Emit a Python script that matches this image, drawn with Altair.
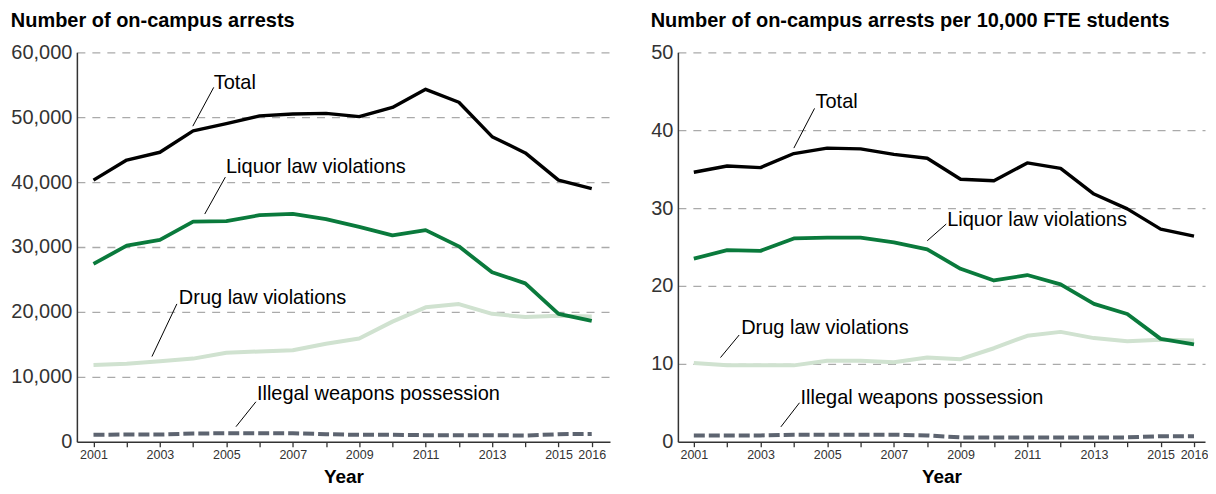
import altair as alt
import pandas as pd

years = list(range(2001, 2017))

# Left panel: number of on-campus arrests
count_total = [40300, 43400, 44600, 47900, 49000, 50200, 50500, 50600, 50100, 51500, 54300, 52300, 47000, 44500, 40300, 39000]
count_liquor = [27400, 30200, 31100, 33900, 34000, 34900, 35100, 34300, 33100, 31800, 32600, 30100, 26100, 24400, 19700, 18600]
count_drug = [11800, 12000, 12400, 12800, 13700, 13900, 14100, 15100, 15900, 18500, 20700, 21200, 19700, 19200, 19400, 19300]
count_weapons = [1050, 1100, 1100, 1250, 1300, 1300, 1300, 1150, 1050, 1050, 1000, 1000, 1000, 950, 1150, 1200]

# Right panel: arrests per 10,000 FTE students
rate_total = [34.6, 35.4, 35.2, 37.0, 37.7, 37.6, 36.9, 36.4, 33.7, 33.5, 35.8, 35.1, 31.8, 29.9, 27.3, 26.4]
rate_liquor = [23.5, 24.6, 24.5, 26.1, 26.2, 26.2, 25.6, 24.7, 22.2, 20.7, 21.4, 20.2, 17.7, 16.4, 13.2, 12.5]
rate_drug = [10.1, 9.8, 9.8, 9.8, 10.4, 10.4, 10.2, 10.8, 10.6, 12.0, 13.6, 14.1, 13.3, 12.9, 13.1, 13.0]
rate_weapons = [0.8, 0.8, 0.8, 0.9, 0.9, 0.9, 0.9, 0.8, 0.55, 0.55, 0.55, 0.55, 0.55, 0.55, 0.7, 0.7]

series_names = ["Illegal weapons possession", "Drug law violations", "Liquor law violations", "Total"]
series_colors = ["#5d6470", "#d0e2d0", "#0a7a3c", "#000000"]
series_widths = [4, 4, 3.8, 3.4]
series_dashed = [True, False, False, False]

# Annotation label anchors (data units) and leader lines
count_label_x = [2005.92, 2003.57, 2004.99, 2004.62]
count_label_y = [7380, 22150, 42300, 55200]
count_lead_x = [2005.89, 2003.51, 2004.97, 2004.62]
count_lead_y = [6150, 21230, 40770, 54600]
count_lead_x2 = [2005.29, 2002.76, 2004.35, 2003.99]
count_lead_y2 = [2310, 13120, 35080, 48620]

rate_label_x = [2004.2, 2002.42, 2008.6, 2004.65]
rate_label_y = [5.6, 14.6, 28.5, 43.6]
rate_lead_x = [2004.17, 2002.36, 2008.57, 2004.62]
rate_lead_y = [5.0, 13.7, 27.95, 42.8]
rate_lead_x2 = [2003.61, 2001.8, 2008.0, 2004.0]
rate_lead_y2 = [1.9, 10.8, 25.8, 37.7]

FONT = "Liberation Sans"


def panel(title, series_values, ymax, ystep, xdom, width, lab_x, lab_y, lx, ly, lx2, ly2):
    xscale = alt.Scale(domain=xdom, nice=False, zero=False)
    yscale = alt.Scale(domain=[0, ymax], nice=False)
    xaxis = alt.Axis(
        values=years,
        labelExpr="(datum.value % 2 == 1 || datum.value == 2016) ? datum.value : ''",
        grid=False, tickSize=5, tickColor="#333333", tickWidth=1.3,
        domainColor="#333333", domainWidth=1.5,
        labelFontSize=12.5, labelColor="#333333", labelFont=FONT, labelPadding=2,
        labelOverlap=False, labelFlush=False,
        title="Year", titleFontSize=19, titleFontWeight="bold", titleFont=FONT,
        titleColor="#000000", titlePadding=6,
    )
    yaxis = alt.Axis(
        values=list(range(0, ymax + 1, ystep)),
        format=",d", grid=True, gridDash=[8, 7], gridColor="#aaaaaa", gridWidth=1.3,
        gridOpacity={"condition": {"test": "datum.value === 0", "value": 0}, "value": 1},
        domainColor="#333333", domainWidth=1.5, ticks=False,
        labelFontSize=20, labelColor="#333333", labelFont=FONT, labelPadding=5,
        title=None,
    )
    layers = []
    for name, vals, col, w, dashed in zip(series_names, series_values, series_colors,
                                          series_widths, series_dashed):
        df = pd.DataFrame({"year": years, "value": vals})
        kw = dict(color=col, strokeWidth=w, strokeCap="butt", strokeJoin="round")
        if dashed:
            kw["strokeDash"] = [11, 4]
        layers.append(
            alt.Chart(df).mark_line(**kw).encode(
                x=alt.X("year:Q", scale=xscale, axis=xaxis),
                y=alt.Y("value:Q", scale=yscale, axis=yaxis),
            )
        )
    lead_df = pd.DataFrame({"x": lx, "y": ly, "x2": lx2, "y2": ly2})
    layers.append(
        alt.Chart(lead_df).mark_rule(color="#000000", strokeWidth=1).encode(
            x=alt.X("x:Q", scale=xscale, axis=xaxis),
            y=alt.Y("y:Q", scale=yscale, axis=yaxis),
            x2="x2:Q", y2="y2:Q",
        )
    )
    lab_df = pd.DataFrame({"x": lab_x, "y": lab_y, "label": series_names})
    layers.append(
        alt.Chart(lab_df).mark_text(align="left", baseline="middle", fontSize=20,
                                    font=FONT, color="#000000").encode(
            x=alt.X("x:Q", scale=xscale, axis=xaxis),
            y=alt.Y("y:Q", scale=yscale, axis=yaxis),
            text="label:N",
        )
    )
    return alt.layer(*layers).properties(
        width=width, height=390,
        title=alt.TitleParams(title, anchor="start", frame="bounds", fontSize=20,
                              fontWeight="bold", font=FONT, color="#000000", offset=11),
    )


left = panel("Number of on-campus arrests",
             [count_weapons, count_drug, count_liquor, count_total], 60000, 10000,
             [2000.5, 2016.55], 534,
             count_label_x, count_label_y, count_lead_x, count_lead_y, count_lead_x2, count_lead_y2)
right = panel("Number of on-campus arrests per 10,000 FTE students",
              [rate_weapons, rate_drug, rate_liquor, rate_total], 50, 10,
              [2000.522, 2016.33], 528,
              rate_label_x, rate_label_y, rate_lead_x, rate_lead_y, rate_lead_x2, rate_lead_y2)

chart = alt.hconcat(left, right, spacing=40).properties(
    padding={"left": 2, "top": 3, "right": 0, "bottom": 0}
).configure(background="white").configure_view(strokeWidth=0, stroke="transparent")

chart.save("out.html", embed_options={"renderer": "svg", "actions": False})
